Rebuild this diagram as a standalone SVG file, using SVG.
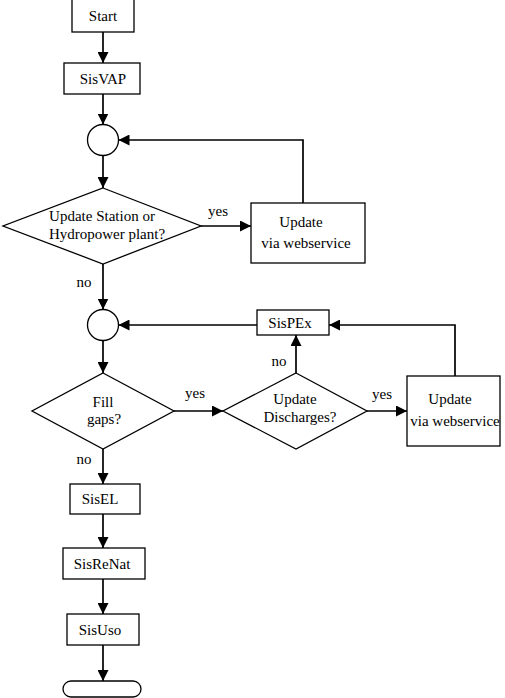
<svg xmlns="http://www.w3.org/2000/svg" width="505" height="698" viewBox="0 0 505 698">
<style>
.s{fill:#fff;stroke:#000;stroke-width:1.3}
.c{fill:none;stroke:#000;stroke-width:1.7}
text{font-family:"Liberation Serif","Times New Roman",serif;font-size:15px;fill:#000;text-anchor:middle}
</style>
<defs>
<marker id="a" markerUnits="userSpaceOnUse" markerWidth="11" markerHeight="11" viewBox="0 0 10 10" refX="10" refY="5" orient="auto">
<path d="M0,0 L10,5 L0,10 z" fill="#000"/>
</marker>
</defs>
<rect width="505" height="698" fill="#fff"/>
<g id="connectors">
<path class="c" d="M103,32 V63" marker-end="url(#a)"/>
<path class="c" d="M103,94 V124.5" marker-end="url(#a)"/>
<path class="c" d="M103,155.5 V188" marker-end="url(#a)"/>
<path class="c" d="M201,226 H251" marker-end="url(#a)"/>
<path class="c" d="M303,203 V140 H118.5" marker-end="url(#a)"/>
<path class="c" d="M103,264 V309.5" marker-end="url(#a)"/>
<path class="c" d="M257,325 H118.5" marker-end="url(#a)"/>
<path class="c" d="M103,340.5 V373" marker-end="url(#a)"/>
<path class="c" d="M174,411 H223" marker-end="url(#a)"/>
<path class="c" d="M296,373 V335" marker-end="url(#a)"/>
<path class="c" d="M367,411 H407" marker-end="url(#a)"/>
<path class="c" d="M455,376 V325 H329" marker-end="url(#a)"/>
<path class="c" d="M103,449 V484" marker-end="url(#a)"/>
<path class="c" d="M103,514 V548" marker-end="url(#a)"/>
<path class="c" d="M103,579 V614" marker-end="url(#a)"/>
<path class="c" d="M103,645 V681" marker-end="url(#a)"/>
<text x="218" y="216">yes</text>
<text x="84" y="287">no</text>
<text x="195" y="398">yes</text>
<text x="279" y="366">no</text>
<text x="382" y="399">yes</text>
<text x="84" y="464">no</text>
</g>
<g id="start"><rect class="s" x="72" y="-1" width="62" height="33"/><text x="103" y="21">Start</text></g>
<g id="sisvap"><rect class="s" x="64" y="63" width="76" height="31"/><text x="103" y="84">SisVAP</text></g>
<g id="junction1"><circle class="s" cx="103" cy="140" r="15.5"/></g>
<g id="decision1"><path class="s" d="M103,188 L201,226 L103,264 L3,226 Z"/><text x="102" y="221">Update Station or</text><text x="107" y="239">Hydropower plant?</text></g>
<g id="update1"><rect class="s" x="251" y="203" width="114" height="60"/><text x="301" y="227">Update</text><text x="306" y="248">via webservice</text></g>
<g id="junction2"><circle class="s" cx="103" cy="325" r="15.5"/></g>
<g id="sispex"><rect class="s" x="257" y="310" width="72" height="25"/><text x="290" y="328">SisPEx</text></g>
<g id="decision2"><path class="s" d="M103,373 L174,411 L103,449 L32,411 Z"/><text x="103" y="407">Fill</text><text x="104" y="424">gaps?</text></g>
<g id="decision3"><path class="s" d="M296,373 L367,411 L296,449 L223,411 Z"/><text x="295" y="404">Update</text><text x="300" y="422">Discharges?</text></g>
<g id="update2"><rect class="s" x="407" y="376" width="93" height="70"/><text x="450" y="404">Update</text><text x="455" y="426">via webservice</text></g>
<g id="sisel"><rect class="s" x="70" y="484" width="70" height="30"/><text x="100" y="504">SisEL</text></g>
<g id="sisrenat"><rect class="s" x="63" y="548" width="82" height="31"/><text x="102" y="569">SisReNat</text></g>
<g id="sisuso"><rect class="s" x="67" y="614" width="72" height="31"/><text x="100" y="635">SisUso</text></g>
<g id="end"><rect class="s" x="63" y="681" width="78" height="16" rx="8"/></g>
</svg>
